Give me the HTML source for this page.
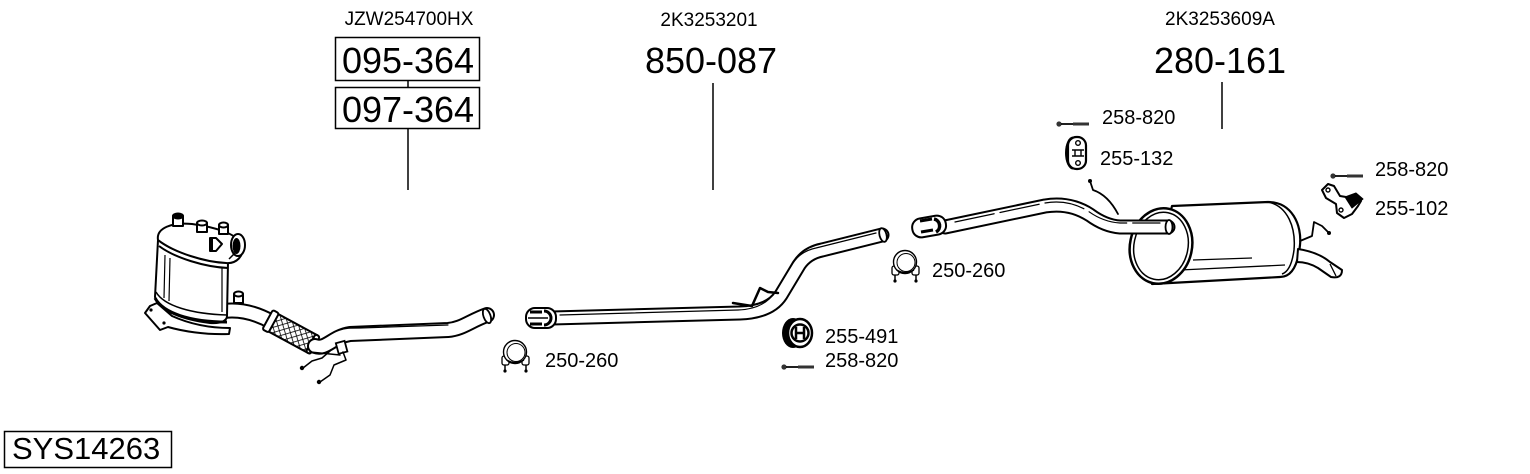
<!DOCTYPE html>
<html>
<head>
<meta charset="utf-8">
<style>
html,body{margin:0;padding:0;background:#fff;}
svg{display:block;}
text{font-family:"Liberation Sans",Arial,sans-serif;fill:#000;}
.po{fill:none;stroke:#000;stroke-linecap:round;stroke-linejoin:round;}
.pi{fill:none;stroke:#fff;stroke-linecap:round;stroke-linejoin:round;}
.ln{fill:none;stroke:#000;stroke-linecap:round;stroke-linejoin:round;}
</style>
</head>
<body>
<svg width="1530" height="474" viewBox="0 0 1530 474" xmlns="http://www.w3.org/2000/svg">
<defs>
  <pattern id="hatch" width="5" height="5" patternUnits="userSpaceOnUse" patternTransform="rotate(45)">
    <rect width="5" height="5" fill="#fff"/>
    <line x1="0" y1="0" x2="0" y2="5" stroke="#000" stroke-width="1.6"/>
    <line x1="0" y1="0" x2="5" y2="0" stroke="#000" stroke-width="1.6"/>
  </pattern>
  <g id="clamp">
    <rect x="-13" y="4" width="7" height="9" rx="2" fill="#fff" stroke="#000" stroke-width="1.3"/>
    <rect x="7" y="4" width="7" height="9" rx="2" fill="#fff" stroke="#000" stroke-width="1.3"/>
    <line x1="-10" y1="13" x2="-10" y2="19" stroke="#000" stroke-width="1.5"/>
    <line x1="11" y1="13" x2="11" y2="19" stroke="#000" stroke-width="1.5"/>
    <circle cx="-10" cy="19" r="1.6" fill="#000"/>
    <circle cx="11" cy="19" r="1.6" fill="#000"/>
    <circle cx="0" cy="0" r="11.5" fill="#fff" stroke="#000" stroke-width="1.4"/>
    <circle cx="1" cy="0.5" r="9" fill="#fff" stroke="#000" stroke-width="1"/>
    <path d="M-8,8 Q0,13 9,8" fill="none" stroke="#000" stroke-width="1.3"/>
  </g>
  <g id="bolt">
    <circle cx="0" cy="0" r="2.6" fill="#333"/>
    <line x1="2" y1="0" x2="30" y2="0" stroke="#000" stroke-width="1.8"/>
    <line x1="14" y1="0" x2="30" y2="0" stroke="#333" stroke-width="3"/>
  </g>
</defs>

<!-- ===== Top labels ===== -->
<text x="409" y="25" font-size="19" text-anchor="middle">JZW254700HX</text>
<rect x="335.5" y="37.5" width="144" height="43" fill="#fff" stroke="#000" stroke-width="1.5"/>
<text x="408" y="73" font-size="36" text-anchor="middle">095-364</text>
<line x1="408" y1="81" x2="408" y2="87" stroke="#000" stroke-width="1.5"/>
<rect x="335.5" y="87.5" width="144" height="41" fill="#fff" stroke="#000" stroke-width="1.5"/>
<text x="408" y="122" font-size="36" text-anchor="middle">097-364</text>
<line x1="408" y1="129" x2="408" y2="190" stroke="#000" stroke-width="1.5"/>

<text x="709" y="26" font-size="19" text-anchor="middle">2K3253201</text>
<text x="711" y="73" font-size="36" text-anchor="middle">850-087</text>
<line x1="713" y1="83" x2="713" y2="190" stroke="#000" stroke-width="1.5"/>

<text x="1220" y="25" font-size="19" text-anchor="middle">2K3253609A</text>
<text x="1220" y="73" font-size="36" text-anchor="middle">280-161</text>
<line x1="1222" y1="82" x2="1222" y2="129" stroke="#000" stroke-width="1.5"/>

<!-- SYS box -->
<rect x="4.5" y="431.5" width="167" height="36" fill="#fff" stroke="#000" stroke-width="1.5"/>
<text x="12" y="459" font-size="31">SYS14263</text>

<!-- ===== Catalyst / DPF section ===== -->
<g stroke="#000" stroke-width="2" fill="#fff" stroke-linejoin="round">
  <!-- flange -->
  <path d="M145,313 L150,306 L157,303 L172,316 C192,325 212,328 230,328 L229,334 C205,335 182,331 168,327 L160,330 Z"/>
  <circle cx="151" cy="310" r="1.6" fill="#000" stroke="none"/>
  <circle cx="164" cy="323" r="1.6" fill="#000" stroke="none"/>
  <!-- outlet pipe from body -->
</g>
<path class="po" stroke-width="16" d="M224,311 C240,309 256,313 272,322"/>
<path class="pi" stroke-width="12" d="M224,311 C240,309 256,313 272,322"/>
<g stroke="#000" stroke-width="2" fill="#fff" stroke-linejoin="round">
  <!-- body -->
  <path d="M158,240 L155,297 C160,312 185,320 210,323 C222,324 227,320 227,316 L228,262 C210,262 175,254 158,240 Z"/>
  <path d="M156,292 C164,306 192,314 227,315" fill="none" stroke-width="1.5"/>
  <path d="M155,298 C163,313 190,322 227,322" fill="none" stroke-width="3"/>
  <line x1="165" y1="255" x2="164" y2="298" stroke-width="1.2"/>
  <line x1="170" y1="258" x2="169" y2="301" stroke-width="1.2"/>
  <line x1="222" y1="268" x2="222" y2="312" stroke-width="1.2"/>
  <!-- top -->
  <path d="M158,240 C156,228 172,222 192,224 C215,227 238,234 242,245 C245,256 236,264 226,263 C205,262 175,253 158,240 Z"/>
  <path d="M159,246 C175,258 205,267 228,268" fill="none" stroke-width="2"/>
  <!-- nozzles -->
  <rect x="173" y="216" width="10" height="10"/>
  <ellipse cx="178" cy="216" rx="5" ry="2.5" fill="#000"/>
  <rect x="197" y="223" width="10" height="9"/>
  <ellipse cx="202" cy="223" rx="5" ry="2.5"/>
  <rect x="219" y="225" width="9" height="9"/>
  <ellipse cx="223.5" cy="225" rx="4.5" ry="2.5"/>
  <!-- D shape -->
  <path d="M210,238 L216,238 L222,244 L216,251 L210,251 Z"/>
  <rect x="210" y="238" width="3" height="13" fill="#000" stroke="none"/>
  <!-- outlet on top -->
  <ellipse cx="238" cy="245" rx="7" ry="11"/>
  <ellipse cx="236.5" cy="246" rx="4" ry="8" fill="#000" stroke="none"/>
  <path d="M229,259 L236,252" fill="none" stroke-width="1.5"/>
  <!-- nozzle on outlet pipe -->
  <rect x="234" y="294" width="9" height="9"/>
  <ellipse cx="238.5" cy="294" rx="4.5" ry="2.5"/>
</g>
<!-- flex -->
<g transform="translate(272,322) rotate(28.5)">
  <rect x="0" y="-10" width="46" height="20" fill="url(#hatch)" stroke="#000" stroke-width="2"/>
  <rect x="-5" y="-11" width="7" height="22" rx="2" fill="#fff" stroke="#000" stroke-width="2"/>
  <rect x="44" y="-10" width="5" height="20" rx="2" fill="#fff" stroke="#000" stroke-width="2"/>
</g>
<!-- front pipe -->
<path class="po" stroke-width="16" d="M315,346 C326,350 332,337 350,334 L448,330 C462,329 470,321 487,315"/>
<path class="pi" stroke-width="12" d="M315,346 C326,350 332,337 350,334 L448,330 C462,329 470,321 487,315"/>
<path class="ln" stroke-width="1.2" d="M340,330 C345,328 350,328 360,328 L448,325"/>
<ellipse cx="487" cy="316" rx="3.5" ry="7.5" transform="rotate(-20 487 316)" fill="#fff" stroke="#000" stroke-width="1.8"/>
<!-- bracket + wires -->
<path class="ln" stroke-width="1.5" d="M310,352 L340,355"/>
<rect x="337" y="342" width="9" height="11" fill="#fff" stroke="#000" stroke-width="1.8" transform="rotate(-15 341 347)"/>
<path class="ln" stroke-width="1.5" d="M330,351 L322,358 L312,361 L303,368"/>
<circle cx="302" cy="368" r="2.2" fill="#000"/>
<path class="ln" stroke-width="1.5" d="M343,352 L346,360 L334,365 L330,375 L320,382"/>
<circle cx="319" cy="382" r="2.2" fill="#000"/>

<!-- ===== Middle pipe ===== -->
<path class="po" stroke-width="15" d="M552,318 L740,313 Q770,312 781,295 L799,265 Q807,253 822,250 L882,235"/>
<path class="pi" stroke-width="11" d="M552,318 L740,313 Q770,312 781,295 L799,265 Q807,253 822,250 L882,235"/>
<path class="ln" stroke-width="1.2" d="M560,315 L738,310 Q764,309 775,292 L793,263 Q801,251 816,248 L876,233"/>
<ellipse cx="883" cy="235" rx="3.5" ry="7" transform="rotate(-15 883 235)" fill="#fff" stroke="#000" stroke-width="1.8"/>
<!-- left end fitting -->
<g stroke="#000" stroke-width="2">
  <rect x="526" y="308" width="30" height="20" rx="9" fill="#fff"/>
  <path d="M530,312 L542,312 M530,324 L542,324" stroke-width="3"/>
  <line x1="528" y1="318" x2="548" y2="318" stroke-width="1.5"/>
  <path d="M544,311 A7,7 0 0 1 544,325" fill="none" stroke-width="3"/>
</g>
<!-- wire bracket -->
<path class="ln" stroke-width="2.5" d="M733,303 L752,306 L760,288 L768,292 L778,293"/>

<!-- clamp + label -->
<use href="#clamp" x="515" y="352"/>
<text x="545" y="367" font-size="20">250-260</text>

<!-- hanger 255-491 -->
<g>
  <ellipse cx="793" cy="333" rx="11" ry="15" fill="#000"/>
  <ellipse cx="800" cy="333" rx="12" ry="14" fill="#fff" stroke="#000" stroke-width="2.5"/>
  <circle cx="800" cy="333" r="8.5" fill="#fff" stroke="#000" stroke-width="2.5"/>
  <path d="M796,327 L796,339 M804,327 L804,339 M796,333 L804,333" stroke="#000" stroke-width="2.5"/>
</g>
<text x="825" y="343" font-size="20">255-491</text>
<use href="#bolt" x="784" y="367"/>
<text x="825" y="367" font-size="20">258-820</text>

<!-- ===== Rear section ===== -->
<!-- muffler body -->
<g stroke="#000" stroke-linejoin="round">
  <path d="M1172,206 L1268,202 C1292,202 1302,225 1300,245 C1298,265 1292,277 1280,277 L1152,284 Z" fill="#fff" stroke-width="2.2"/>
  <path d="M1180,270 L1285,265" fill="none" stroke-width="1.3"/>
  <path d="M1193,260 L1252,258" fill="none" stroke-width="1.3"/>
  <path d="M1268,202 C1288,206 1296,228 1294,250 C1292,265 1288,272 1282,274" fill="none" stroke-width="1.5"/>
  <ellipse cx="1161" cy="246" rx="31" ry="38" transform="rotate(12 1161 246)" fill="#fff" stroke-width="2.5"/>
  <ellipse cx="1161" cy="246" rx="27" ry="34" transform="rotate(12 1161 246)" fill="#fff" stroke-width="1.5"/>
  <!-- tailpipe -->
  <path d="M1298,249 Q1318,252 1330,262 L1342,270 Q1342,279 1331,277 L1318,268 Q1308,262 1297,262 Z" fill="#fff" stroke-width="2"/>
  <line x1="1330" y1="264" x2="1336" y2="276" stroke-width="1.3"/>
</g>
<!-- rear wire -->
<path class="ln" stroke-width="1.8" d="M1300,241 L1312,236 L1314,222 L1322,226 L1329,233"/>
<circle cx="1329" cy="233" r="2" fill="#000"/>
<!-- rear pipe -->
<path class="po" stroke-width="15" d="M945,227 L1045,206 Q1070,202 1090,215 Q1105,226 1120,227 L1168,227"/>
<path class="pi" stroke-width="11" d="M945,227 L1045,206 Q1070,202 1090,215 Q1105,226 1120,227 L1168,227"/>
<path class="ln" stroke-width="1.2" d="M955,222 L1045,203 Q1068,199 1088,211 Q1103,222 1120,223 L1160,223" stroke-dasharray="40 6"/>
<ellipse cx="1169" cy="227" rx="3.5" ry="7" fill="#fff" stroke="#000" stroke-width="1.8"/>
<!-- rear pipe left fitting -->
<g stroke="#000" stroke-width="2">
  <rect x="912" y="217" width="34" height="19" rx="9" fill="#fff" transform="rotate(-10 929 226)"/>
  <path d="M920,221 L932,219 M921,232 L933,230" stroke-width="3"/>
  <path d="M934,219 A7,7 0 0 1 936,232" fill="none" stroke-width="3.5"/>
</g>
<!-- wire on top of pipe -->
<path class="ln" stroke-width="1.8" d="M1090,181 L1093,190 Q1108,195 1118,214"/>
<circle cx="1090" cy="181" r="2" fill="#000"/>

<!-- clamp right -->
<use href="#clamp" x="905" y="262"/>
<text x="932" y="277" font-size="20">250-260</text>

<!-- bolt + hanger 255-132 -->
<use href="#bolt" x="1059" y="124"/>
<text x="1102" y="124" font-size="20">258-820</text>
<g>
  <ellipse cx="1073" cy="153" rx="8" ry="16.5" fill="#000"/>
  <rect x="1068" y="137" width="18" height="32" rx="8.5" fill="#fff" stroke="#000" stroke-width="2.2"/>
  <circle cx="1078" cy="143" r="2.3" fill="#fff" stroke="#000" stroke-width="1.4"/>
  <circle cx="1078" cy="163" r="2.3" fill="#fff" stroke="#000" stroke-width="1.4"/>
  <path d="M1072,150 L1084,150 M1072,156 L1084,156 M1075,150 L1075,156 M1081,150 L1081,156" stroke="#000" stroke-width="1.4"/>
</g>
<text x="1100" y="165" font-size="20">255-132</text>

<!-- right bolt + bracket 255-102 -->
<use href="#bolt" x="1333" y="176"/>
<text x="1375" y="176" font-size="20">258-820</text>
<g stroke="#000" stroke-linejoin="round">
  <path d="M1322,190 L1328,184 L1334,186 L1340,196 L1352,198 L1361,201 L1358,206 L1352,214 L1344,218 L1337,213 L1336,204 L1326,198 Z" fill="#fff" stroke-width="2"/>
  <path d="M1345,197 L1356,193 L1363,199 L1352,208 Z" fill="#000" stroke-width="1"/>
  <circle cx="1328" cy="190" r="2" fill="#fff" stroke-width="1.4"/>
  <circle cx="1341" cy="210" r="2" fill="#fff" stroke-width="1.4"/>
</g>
<text x="1375" y="215" font-size="20">255-102</text>
</svg>
</body>
</html>
